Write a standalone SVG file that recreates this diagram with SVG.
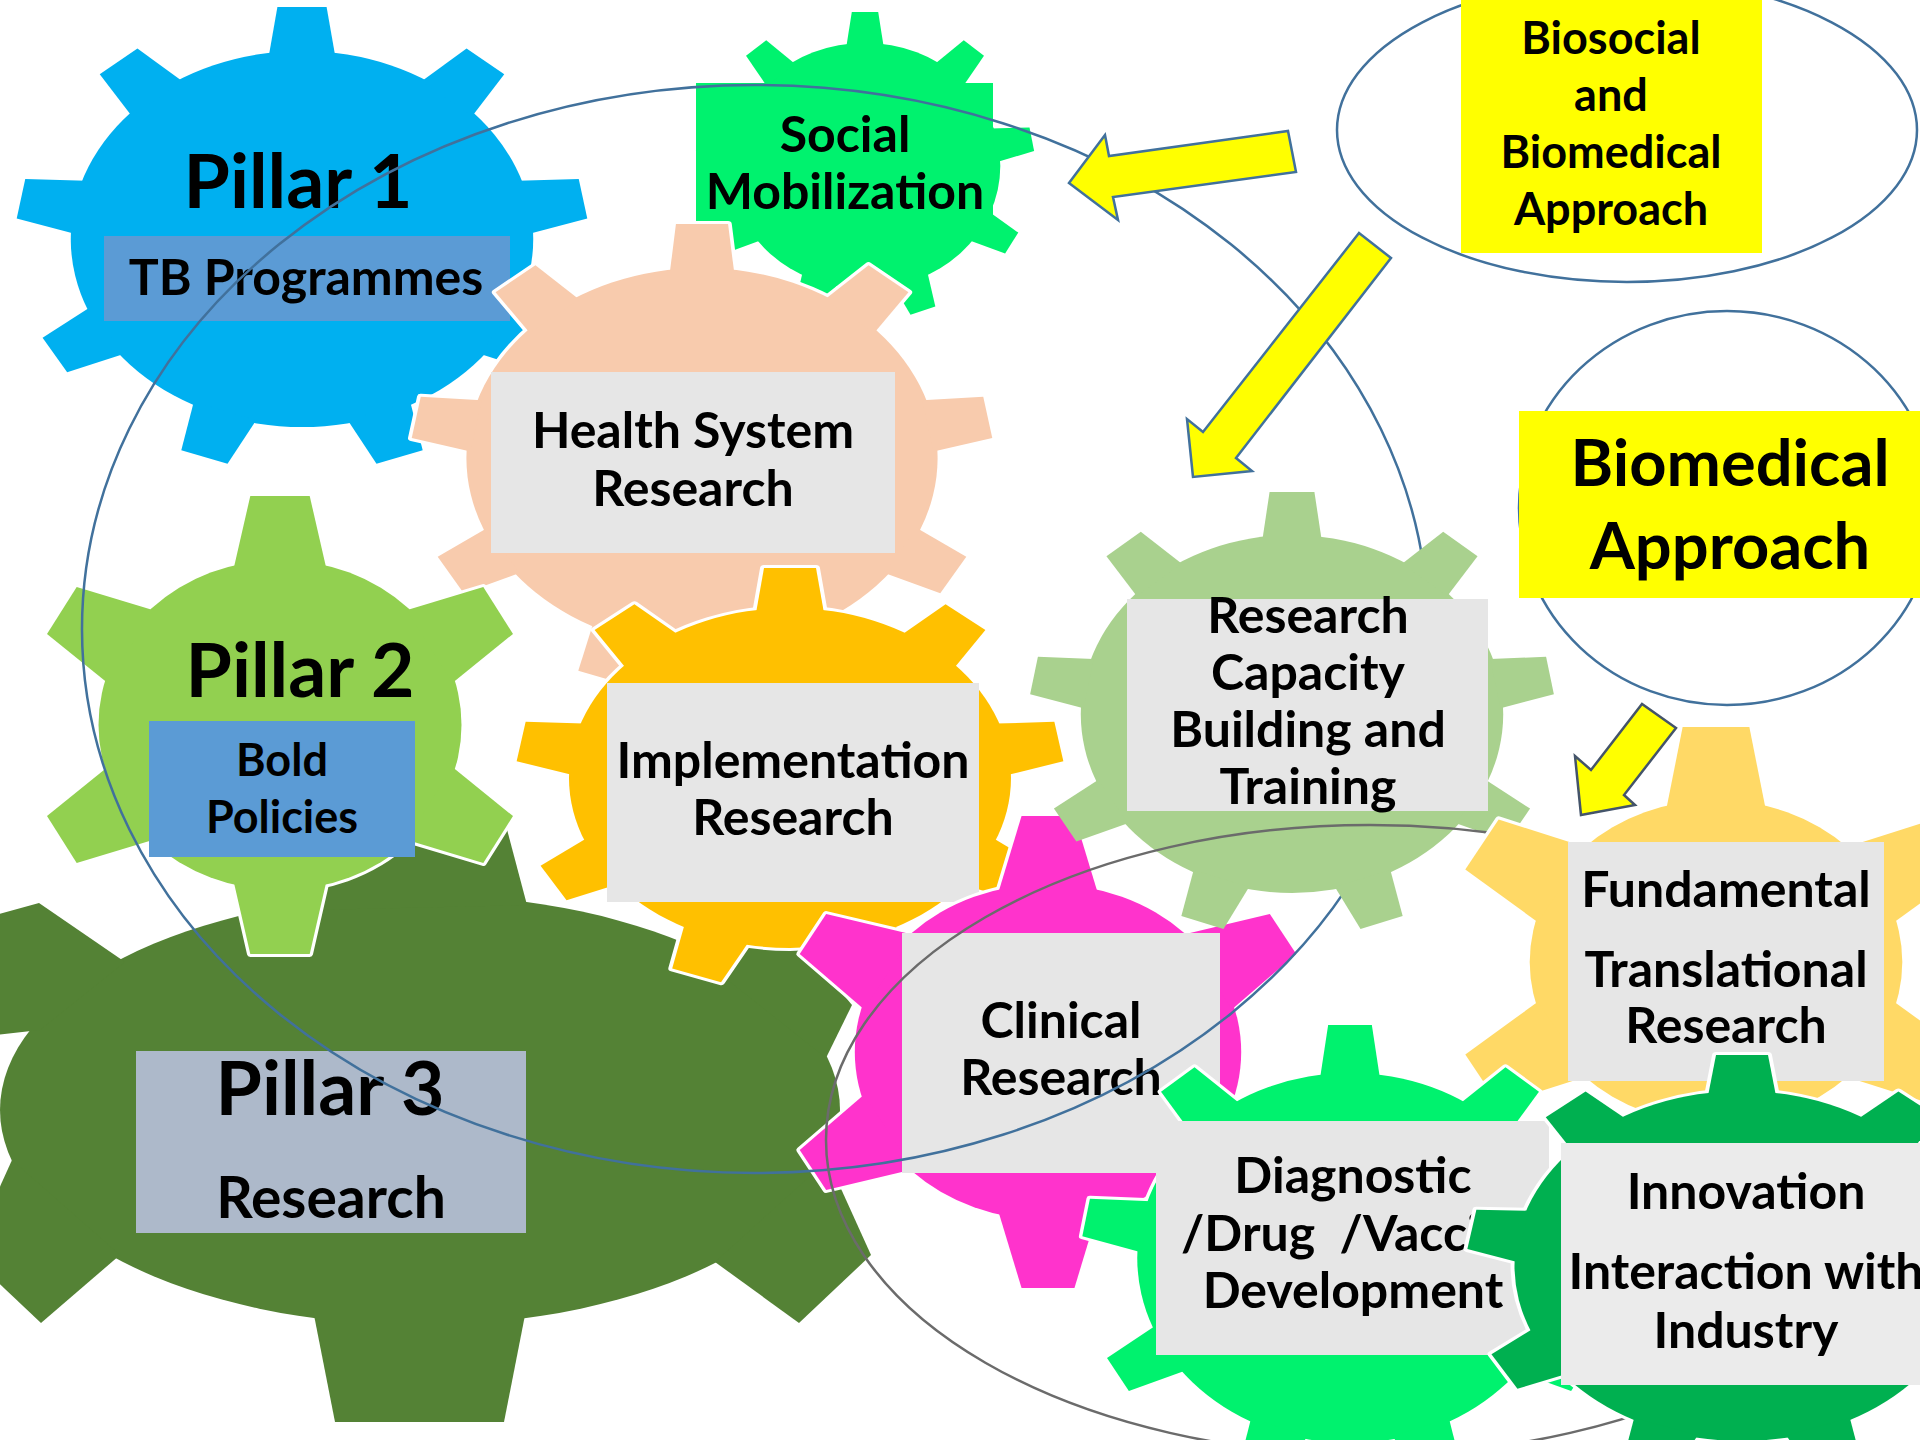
<svg xmlns="http://www.w3.org/2000/svg" xmlns:xlink="http://www.w3.org/1999/xlink" width="1920" height="1440" viewBox="0 0 1920 1440">
<style>
.t{font-family:Lato,"Open Sans","DejaVu Sans",sans-serif;font-weight:700;fill:#000;text-anchor:middle;white-space:pre}
.s47{font-size:50px}
.s43{font-size:45px}
.s71{font-size:75px}
.s62{font-size:65px}
.s53{font-size:57px}
.ol{fill:#fff;stroke:#fff;stroke-width:6;stroke-linejoin:round}
.ring{fill:none;stroke:#41719C;stroke-width:2.5}
.ring2{fill:none;stroke:#6B6B6B;stroke-width:2.5}
.arr{fill:#FFFF00;stroke:#41719C;stroke-width:2.5;stroke-linejoin:miter}
.box{fill:#E6E6E6}
</style>
<defs>
<polygon id="tp1" points="-27,-183 -20,-232 20,-232 27,-183"/>
<g id="gp1"><circle r="188"/><use href="#tp1"/><use href="#tp1" transform="rotate(40)"/><use href="#tp1" transform="rotate(80)"/><use href="#tp1" transform="rotate(120)"/><use href="#tp1" transform="rotate(160)"/><use href="#tp1" transform="rotate(200)"/><use href="#tp1" transform="rotate(240)"/><use href="#tp1" transform="rotate(280)"/><use href="#tp1" transform="rotate(320)"/></g>
<polygon id="tsm" points="-17,-119 -12,-154 12,-154 17,-119"/>
<g id="gsm"><circle r="123"/><use href="#tsm"/><use href="#tsm" transform="rotate(40)"/><use href="#tsm" transform="rotate(80)"/><use href="#tsm" transform="rotate(120)"/><use href="#tsm" transform="rotate(160)"/><use href="#tsm" transform="rotate(200)"/><use href="#tsm" transform="rotate(240)"/><use href="#tsm" transform="rotate(280)"/><use href="#tsm" transform="rotate(320)"/></g>
<polygon id="thr" points="-26,-185 -21,-234 21,-234 26,-185"/>
<g id="ghr"><circle r="190"/><use href="#thr"/><use href="#thr" transform="rotate(40)"/><use href="#thr" transform="rotate(80)"/><use href="#thr" transform="rotate(120)"/><use href="#thr" transform="rotate(160)"/><use href="#thr" transform="rotate(200)"/><use href="#thr" transform="rotate(240)"/><use href="#thr" transform="rotate(280)"/><use href="#thr" transform="rotate(320)"/></g>
<polygon id="tp2" points="-42,-157 -27,-229 27,-229 42,-157"/>
<g id="gp2"><circle r="165"/><use href="#tp2"/><use href="#tp2" transform="rotate(60)"/><use href="#tp2" transform="rotate(120)"/><use href="#tp2" transform="rotate(180)"/><use href="#tp2" transform="rotate(240)"/><use href="#tp2" transform="rotate(300)"/></g>
<polygon id="tim" points="-26,-166 -20,-210 20,-210 26,-166"/>
<g id="gim"><circle r="170"/><use href="#tim"/><use href="#tim" transform="rotate(40)"/><use href="#tim" transform="rotate(80)"/><use href="#tim" transform="rotate(120)"/><use href="#tim" transform="rotate(160)"/><use href="#tim" transform="rotate(200)"/><use href="#tim" transform="rotate(240)"/><use href="#tim" transform="rotate(280)"/><use href="#tim" transform="rotate(320)"/></g>
<polygon id="tcl" points="-43,-160 -23,-236 23,-236 43,-160"/>
<g id="gcl"><circle r="168"/><use href="#tcl"/><use href="#tcl" transform="rotate(60)"/><use href="#tcl" transform="rotate(120)"/><use href="#tcl" transform="rotate(180)"/><use href="#tcl" transform="rotate(240)"/><use href="#tcl" transform="rotate(300)"/></g>
<polygon id="trc" points="-25,-175 -19,-222 19,-222 25,-175"/>
<g id="grc"><circle r="179"/><use href="#trc"/><use href="#trc" transform="rotate(40)"/><use href="#trc" transform="rotate(80)"/><use href="#trc" transform="rotate(120)"/><use href="#trc" transform="rotate(160)"/><use href="#trc" transform="rotate(200)"/><use href="#trc" transform="rotate(240)"/><use href="#trc" transform="rotate(280)"/><use href="#trc" transform="rotate(320)"/></g>
<polygon id="tfu" points="-43,-154 -29,-235 29,-235 43,-154"/>
<g id="gfu"><circle r="162"/><use href="#tfu"/><use href="#tfu" transform="rotate(60)"/><use href="#tfu" transform="rotate(120)"/><use href="#tfu" transform="rotate(180)"/><use href="#tfu" transform="rotate(240)"/><use href="#tfu" transform="rotate(300)"/></g>
<polygon id="tdg" points="-26,-180 -19,-233 19,-233 26,-180"/>
<g id="gdg"><circle r="185"/><use href="#tdg"/><use href="#tdg" transform="rotate(40)"/><use href="#tdg" transform="rotate(80)"/><use href="#tdg" transform="rotate(120)"/><use href="#tdg" transform="rotate(160)"/><use href="#tdg" transform="rotate(200)"/><use href="#tdg" transform="rotate(240)"/><use href="#tdg" transform="rotate(280)"/><use href="#tdg" transform="rotate(320)"/></g>
<polygon id="tin" points="-26,-171 -20,-211 20,-211 26,-171"/>
<g id="gin"><circle r="175"/><use href="#tin"/><use href="#tin" transform="rotate(40)"/><use href="#tin" transform="rotate(80)"/><use href="#tin" transform="rotate(120)"/><use href="#tin" transform="rotate(160)"/><use href="#tin" transform="rotate(200)"/><use href="#tin" transform="rotate(240)"/><use href="#tin" transform="rotate(280)"/><use href="#tin" transform="rotate(320)"/></g>
<g id="gp3">
<ellipse cx="420" cy="1110" rx="420" ry="215"/>
<polygon points="313,910 335,803 500,803 527,905"/>
<polygon points="313,1310 335,1422 504,1422 526,1310"/>
<polygon points="125,962 39,903 -60,930 -5,1035 40,1030"/>
<polygon points="12,1160 -31,1255 41,1323 120,1255"/>
<polygon points="690,950 745,940 808,952 852,1005 826,1058"/>
<polygon points="828,1160 871,1255 799,1323 715,1262"/>
</g>
</defs>
<rect width="1920" height="1440" fill="#fff"/>

<g id="pillar1">
<use href="#gp1" transform="translate(302,239) scale(1.23,1)" fill="#00B0F0"/>
<text class="t s71" x="298" y="208">Pillar 1</text>
<rect x="104" y="236" width="406" height="85" fill="#5B9BD5"/>
<text class="t s47" x="306" y="295">TB Programmes</text>
</g>

<g id="social-mobilization">
<use href="#gsm" transform="translate(865,166) scale(1.1,1)" fill="#00F26E"/>
<rect x="696" y="83" width="297" height="139" fill="#00F26E"/>
<text class="t s47" x="845" y="152">Social</text>
<text class="t s47" x="845" y="209">Mobilization</text>
</g>

<g id="health-system-research">
<use href="#ghr" transform="translate(702,458) scale(1.24,1)" class="ol"/>
<use href="#ghr" transform="translate(702,458) scale(1.24,1)" fill="#F8CBAD"/>
<rect class="box" x="491" y="372" width="404" height="181"/>
<text class="t s47" x="693" y="448">Health System</text>
<text class="t s47" x="693" y="506">Research</text>
</g>

<g id="pillar3">
<use href="#gp3" fill="#548235"/>
<rect x="136" y="1051" width="390" height="182" fill="#ADB9CA"/>
<text class="t s71" x="330" y="1115">Pillar 3</text>
<text class="t s53" x="331" y="1218">Research</text>
</g>

<g id="pillar2">
<use href="#gp2" transform="translate(280,725) scale(1.1,1)" class="ol"/>
<use href="#gp2" transform="translate(280,725) scale(1.1,1)" fill="#92D050"/>
<text class="t s71" x="300" y="697">Pillar 2</text>
<rect x="149" y="721" width="266" height="136" fill="#5B9BD5"/>
<text class="t s43" x="282" y="776">Bold</text>
<text class="t s43" x="282" y="833">Policies</text>
</g>

<g id="implementation-research">
<use href="#gim" transform="translate(790,778) scale(1.3,1)" class="ol"/>
<use href="#gim" transform="translate(790,778) scale(1.3,1)" fill="#FFC000"/>
<rect class="box" x="607" y="683" width="372" height="219"/>
<text class="t s47" x="793" y="778">Implementation</text>
<text class="t s47" x="793" y="835">Research</text>
</g>

<g id="clinical-research">
<use href="#gcl" transform="translate(1048,1052) scale(1.15,1)" class="ol"/>
<use href="#gcl" transform="translate(1048,1052) scale(1.15,1)" fill="#FF33CC"/>
<rect class="box" x="902" y="933" width="318" height="240"/>
<text class="t s47" x="1061" y="1038">Clinical</text>
<text class="t s47" x="1061" y="1095">Research</text>
</g>

<g id="outer-ring">
<ellipse class="ring" cx="755" cy="629" rx="673" ry="544"/>
</g>

<g id="research-capacity">
<use href="#grc" transform="translate(1292,714) scale(1.18,1)" fill="#A9D18E"/>
<rect class="box" x="1127" y="599" width="361" height="212"/>
<text class="t s47" x="1308" y="633">Research</text>
<text class="t s47" x="1308" y="690">Capacity</text>
<text class="t s47" x="1308" y="747">Building and</text>
<text class="t s47" x="1308" y="804">Training</text>
</g>

<g id="inner-ring">
<ellipse class="ring2" cx="1370" cy="1140" rx="544" ry="315"/>
</g>

<g id="fundamental-research">
<use href="#gfu" transform="translate(1716,962) scale(1.15,1)" class="ol"/>
<use href="#gfu" transform="translate(1716,962) scale(1.15,1)" fill="#FFD966"/>
<rect class="box" x="1568" y="842" width="316" height="239"/>
<text class="t s47" x="1726" y="907">Fundamental</text>
<text class="t s47" x="1726" y="987">Translational</text>
<text class="t s47" x="1726" y="1043">Research</text>
</g>

<g id="diagnostic-development">
<use href="#gdg" transform="translate(1350,1258) scale(1.15,1)" class="ol"/>
<use href="#gdg" transform="translate(1350,1258) scale(1.15,1)" fill="#00F26E"/>
<rect class="box" x="1156" y="1121" width="393" height="234"/>
<text class="t s47" x="1353" y="1193">Diagnostic</text>
<text class="t s47" x="1181" y="1251" style="text-anchor:start" xml:space="preserve">/Drug  /Vacci</text>
<text class="t s47" x="1353" y="1308">Development</text>
</g>

<g id="innovation">
<use href="#gin" transform="translate(1742,1266) scale(1.3,1)" class="ol"/>
<use href="#gin" transform="translate(1742,1266) scale(1.3,1)" fill="#00B050"/>
<rect x="1561" y="1143" width="370" height="242" fill="#EBEBEB"/>
<text class="t s47" x="1746" y="1209">Innovation</text>
<text class="t s47" x="1746" y="1289">Interaction with</text>
<text class="t s47" x="1746" y="1348">Industry</text>
</g>

<g id="biosocial-approach">
<ellipse class="ring" cx="1627" cy="130" rx="290" ry="152"/>
<rect x="1461" y="0" width="301" height="253" fill="#FFFF00"/>
<text class="t s43" x="1611" y="54">Biosocial</text>
<text class="t s43" x="1611" y="111">and</text>
<text class="t s43" x="1611" y="168">Biomedical</text>
<text class="t s43" x="1611" y="225">Approach</text>
</g>

<g id="biomedical-approach">
<ellipse class="ring" cx="1727" cy="508" rx="208" ry="197"/>
<rect x="1519" y="411" width="401" height="187" fill="#FFFF00"/>
<text class="t s62" x="1730" y="486">Biomedical</text>
<text class="t s62" x="1730" y="569">Approach</text>
</g>

<g id="connectors">
<polygon class="arr" points="1069,183 1105,135 1109,156 1288,131 1296,172 1113,197 1118,220"/>
<polygon class="arr" points="1193,477 1187,419 1203,432 1359,233 1391,258 1236,458 1252,471"/>
<polygon class="arr" style="stroke:#44546A" points="1581,815 1575,756 1591,770 1642,704 1676,728 1624,795 1635,805"/>
</g>
</svg>
